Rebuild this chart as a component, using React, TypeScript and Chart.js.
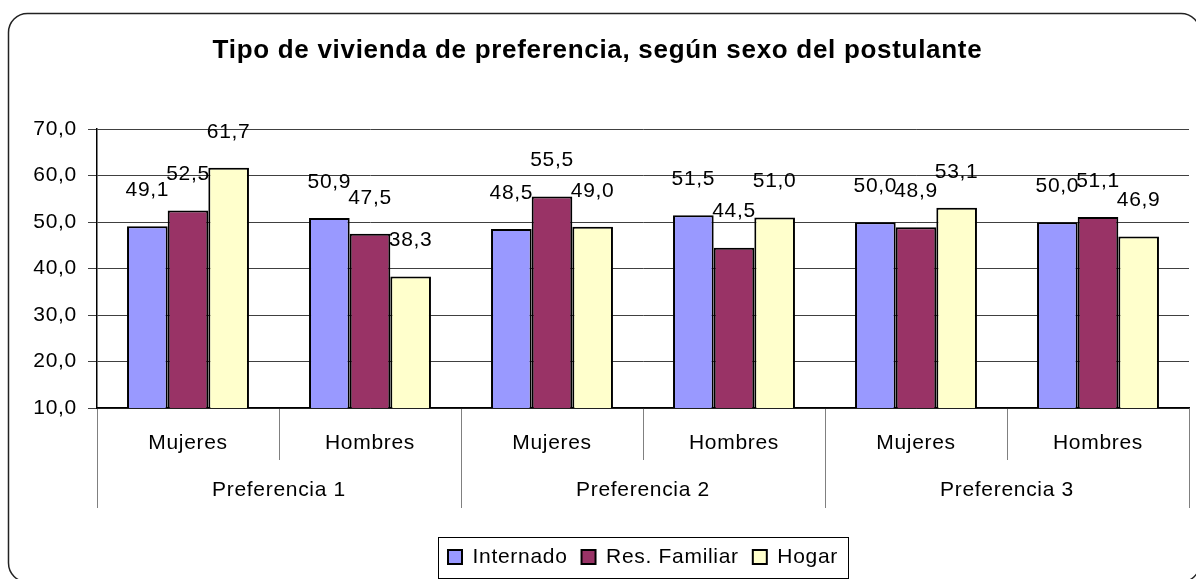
import React, { useEffect, useRef } from 'react';
import { Chart, registerables } from 'chart.js';

Chart.register(...registerables);

// ---- data ----
const CATEGORIES = ['Mujeres', 'Hombres', 'Mujeres', 'Hombres', 'Mujeres', 'Hombres'];
const GROUPS = ['Preferencia 1', 'Preferencia 2', 'Preferencia 3'];
const SERIES_NAMES = ['Internado', 'Res. Familiar', 'Hogar'];
const INTERNADO = [49.1, 50.9, 48.5, 51.5, 50.0, 50.0];
const RES_FAMILIAR = [52.5, 47.5, 55.5, 44.5, 48.9, 51.1];
const HOGAR = [61.7, 38.3, 49.0, 51.0, 53.1, 46.9];
const Y_MIN = 10;
const Y_MAX = 70;
const Y_STEP = 10;
const TITLE = 'Tipo de vivienda de preferencia, según sexo del postulante';

// ---- style ----
const FONT = "'Liberation Sans', Arial, Helvetica, sans-serif";
const COLORS = ['#9999FF', '#993366', '#FFFFCC'];
const LETTER_SPACING = '0.7px';
const LABEL_GAP = 36;

const fmt = (v: number) => Number(v).toFixed(1).replace('.', ',');

const spacingPlugin = {
  id: 'spacingAndFrame',
  beforeLayout(chart: any) {
    try { chart.ctx.letterSpacing = LETTER_SPACING; } catch (e) { /* ignore */ }
  },
  beforeDraw(chart: any) {
    const ctx = chart.ctx as CanvasRenderingContext2D;
    ctx.save();
    ctx.fillStyle = '#ffffff';
    ctx.fillRect(0, 0, chart.width, chart.height);
    // rounded outer frame
    const x = 8.5, y = 13.5, r = 19;
    const x2 = 1200, y2 = 582;
    ctx.beginPath();
    ctx.moveTo(x + r, y);
    ctx.lineTo(x2 - r, y);
    ctx.arcTo(x2, y, x2, y + r, r);
    ctx.lineTo(x2, y2 - r);
    ctx.arcTo(x2, y2, x2 - r, y2, r);
    ctx.lineTo(x + r, y2);
    ctx.arcTo(x, y2, x, y2 - r, r);
    ctx.lineTo(x, y + r);
    ctx.arcTo(x, y, x + r, y, r);
    ctx.closePath();
    ctx.lineWidth = 1.5;
    ctx.strokeStyle = '#222222';
    ctx.stroke();
    ctx.restore();
    try { (ctx as any).letterSpacing = LETTER_SPACING; } catch (e) { /* ignore */ }
  },
};

const valueLabelPlugin = {
  id: 'valueLabels',
  afterDatasetsDraw(chart: any) {
    const ctx = chart.ctx as CanvasRenderingContext2D;
    ctx.save();
    ctx.font = `21px ${FONT}`;
    ctx.fillStyle = '#000000';
    ctx.textAlign = 'center';
    ctx.textBaseline = 'middle';
    chart.data.datasets.forEach((ds: any, i: number) => {
      const meta = chart.getDatasetMeta(i);
      meta.data.forEach((el: any, j: number) => {
        ctx.fillText(fmt(ds.data[j]), el.x, el.y - LABEL_GAP);
      });
    });
    ctx.restore();
  },
};

const legendFramePlugin = {
  id: 'legendFrame',
  afterDraw(chart: any) {
    const lg = chart.legend;
    if (!lg || !lg.legendHitBoxes || !lg.legendHitBoxes.length) return;
    const hb = lg.legendHitBoxes;
    let left = Infinity, right = -Infinity;
    hb.forEach((h: any) => {
      left = Math.min(left, h.left);
      right = Math.max(right, h.left + h.width);
    });
    const top = hb[0].top;
    const ctx = chart.ctx as CanvasRenderingContext2D;
    ctx.save();
    ctx.strokeStyle = '#000000';
    ctx.lineWidth = 1;
    const l = Math.round(left - 10) + 0.5;
    const t = Math.round(top - 9.5) + 0.5;
    const w = Math.round(right - left + 20);
    const h = Math.round(hb[0].height + 20);
    ctx.strokeRect(l, t, w, h);
    ctx.restore();
  },
};

export default function App() {
  const ref = useRef<HTMLCanvasElement | null>(null);

  useEffect(() => {
    if (!ref.current) return;
    Chart.defaults.font.family = FONT;
    const chart = new Chart(ref.current, {
      type: 'bar',
      data: {
        labels: CATEGORIES,
        datasets: [INTERNADO, RES_FAMILIAR, HOGAR].map((values, i) => ({
          label: SERIES_NAMES[i],
          data: values,
          backgroundColor: COLORS[i],
          borderColor: '#000000',
          borderWidth: 2,
          borderSkipped: false,
          categoryPercentage: 0.67,
          barPercentage: 1.0,
        })),
      },
      options: {
        responsive: false,
        animation: false,
        devicePixelRatio: 1,
        layout: { padding: { left: 6, right: 7, top: 14, bottom: 1.5 } },
        plugins: {
          title: {
            display: true,
            text: TITLE,
            color: '#000000',
            font: { family: FONT, size: 26, weight: 'bold' },
            padding: { top: 21, bottom: 63 },
          },
          legend: {
            display: true,
            position: 'bottom',
            fullSize: false,
            title: { display: true, text: '', font: { size: 10 }, padding: { top: 36.1, bottom: 0 } },
            labels: {
              boxWidth: 14,
              boxHeight: 14,
              padding: 14,
              color: '#000000',
              font: { family: FONT, size: 21 },
            },
          },
          tooltip: { enabled: false },
        },
        scales: {
          x: {
            type: 'category',
            offset: true,
            weight: 0,
            grid: {
              offset: true,
              drawOnChartArea: false,
              drawTicks: true,
              tickLength: 52,
              color: '#808080',
              lineWidth: 1,
            },
            border: { display: true, color: '#000000', width: 1.5 },
            ticks: {
              mirror: true,
              padding: -22.4,
              color: '#000000',
              font: { family: FONT, size: 21 },
              maxRotation: 0,
              autoSkip: false,
              callback: function (this: any, value: any) {
                return ['', this.getLabelForValue(value)];
              },
            },
          },
          x2: {
            type: 'category',
            position: 'bottom',
            labels: GROUPS,
            offset: true,
            weight: 1,
            grid: {
              offset: true,
              drawOnChartArea: false,
              drawTicks: true,
              tickLength: 92.8,
              color: '#808080',
              lineWidth: 1,
            },
            border: { display: false },
            ticks: {
              mirror: true,
              padding: -11.8,
              color: '#000000',
              font: { family: FONT, size: 21 },
              maxRotation: 0,
              autoSkip: false,
              callback: function (this: any, value: any) {
                return ['', '', '', this.getLabelForValue(value)];
              },
            },
          },
          y: {
            min: Y_MIN,
            max: Y_MAX,
            grid: { color: '#404040', lineWidth: 1, tickLength: 9 },
            border: { color: '#000000', width: 1.5 },
            afterFit: (scale: any) => { scale.width = 91; },
            ticks: {
              stepSize: Y_STEP,
              padding: 11,
              color: '#000000',
              font: { family: FONT, size: 21 },
              callback: (value: any) => fmt(Number(value)),
            },
          },
        },
      } as any,
      plugins: [spacingPlugin, valueLabelPlugin, legendFramePlugin],
    });
    return () => chart.destroy();
  }, []);

  return (
    <div style={{ position: 'absolute', left: 0, top: 0, width: 1196, height: 579, background: '#fff' }}>
      <canvas ref={ref} width={1196} height={579} style={{ display: 'block', width: 1196, height: 579 }} />
    </div>
  );
}
